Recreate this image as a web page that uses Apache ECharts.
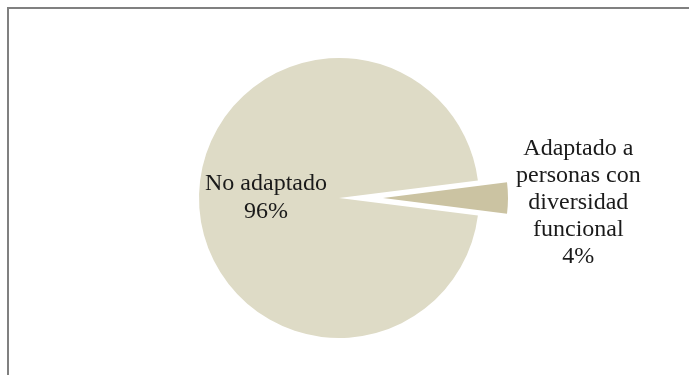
<!DOCTYPE html>
<html>
<head>
<meta charset="utf-8">
<script src="https://cdn.jsdelivr.net/npm/echarts@6/dist/echarts.min.js"></script>
<style>
html,body{margin:0;padding:0;background:#fff;}
#chart{width:689px;height:375px;}
</style>
</head>
<body>
<div id="chart"></div>
<script>
// Data
const categories = ['No adaptado', 'Adaptado a personas con diversidad funcional'];
const labelTexts = ['No adaptado', 'Adaptado a\npersonas con\ndiversidad\nfuncional'];
const values = [96, 4];
const colors = ['#DEDBC6', '#CBC3A2'];

const FONT = '"Liberation Serif", "Times New Roman", serif';
const HIDDEN = 'rgba(0,0,0,0)';

function buildData(visibleIndex, labelCfg) {
  return categories.map((name, i) => ({
    name: labelTexts[i],
    value: values[i],
    itemStyle: { color: i === visibleIndex ? colors[i] : HIDDEN },
    label: i === visibleIndex ? labelCfg : { show: false }
  }));
}

const chart = echarts.init(document.getElementById('chart'), null, { renderer: 'canvas' });
chart.setOption({
  animation: false,
  backgroundColor: '#ffffff',
  graphic: [{
    type: 'rect',
    silent: true,
    shape: { x: 8, y: 8, width: 720, height: 420 },
    style: { fill: 'none', stroke: '#808080', lineWidth: 2 }
  }],
  series: [
    {
      type: 'pie',
      silent: true,
      center: [339, 198],
      radius: 140,
      startAngle: 352.8,
      clockwise: true,
      emphasis: { disabled: true },
      itemStyle: { borderWidth: 0 },
      labelLine: { show: false },
      data: buildData(0, {
        show: true,
        position: 'inside',
        formatter: '{b}\n{d}%',
        fontFamily: FONT,
        fontSize: 24,
        lineHeight: 28,
        padding: [18, 0, 0, 0],
        color: '#1a1a1a'
      })
    },
    {
      type: 'pie',
      silent: true,
      center: [383, 198],
      radius: 125,
      startAngle: 352.8,
      clockwise: true,
      avoidLabelOverlap: false,
      emphasis: { disabled: true },
      itemStyle: { borderWidth: 0 },
      labelLine: { show: false, length: 0, length2: 0 },
      data: buildData(1, {
        show: true,
        position: 'outside',
        distanceToLabelLine: 8,
        formatter: '{c|{b}\n{d}%}',
        fontFamily: FONT,
        fontSize: 24,
        lineHeight: 27,
        padding: [10, 0, 0, 0],
        color: '#1a1a1a',
        rich: {
          c: { align: 'center', fontFamily: FONT, fontSize: 24, lineHeight: 27, color: '#1a1a1a' }
        }
      })
    }
  ]
});
</script>
</body>
</html>
